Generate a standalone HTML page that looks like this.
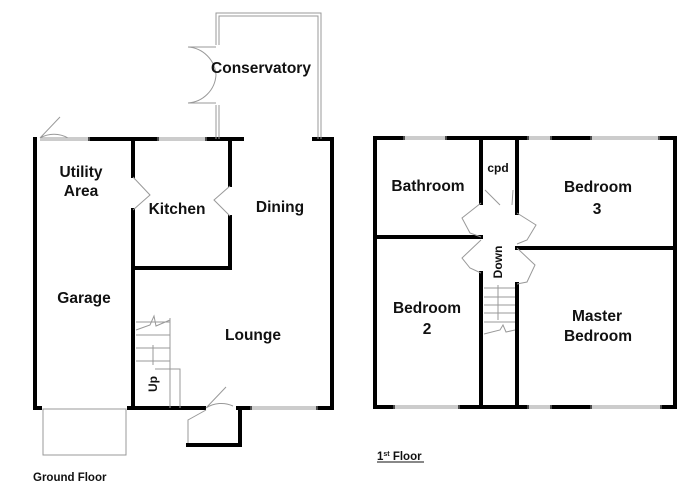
<!DOCTYPE html>
<html><head><style>
html,body{margin:0;padding:0;background:#fff;}
svg{display:block;}
text{font-family:"Liberation Sans",Arial,sans-serif;font-weight:bold;fill:#111;}
</style></head><body>
<svg width="688" height="482" viewBox="0 0 688 482" xmlns="http://www.w3.org/2000/svg">
<g stroke="#000" stroke-width="4" fill="none" stroke-linecap="square">
<line x1="35" y1="139" x2="35" y2="408"/>
<line x1="332" y1="139" x2="332" y2="408"/>
<line x1="90" y1="139" x2="157" y2="139"/>
<line x1="207" y1="139" x2="242" y2="139"/>
<line x1="314" y1="139" x2="332" y2="139"/>
<line x1="133" y1="139" x2="133" y2="176"/>
<line x1="133" y1="210" x2="133" y2="408"/>
<line x1="230" y1="139" x2="230" y2="185"/>
<line x1="230" y1="217" x2="230" y2="268"/>
<line x1="133" y1="268" x2="230" y2="268"/>
<line x1="35" y1="408" x2="40" y2="408"/>
<line x1="129" y1="408" x2="204" y2="408"/>
<line x1="238" y1="408" x2="250" y2="408"/>
<line x1="318" y1="408" x2="332" y2="408"/>
<line x1="240" y1="408" x2="240" y2="445"/>
<line x1="188" y1="445" x2="240" y2="445"/>
<line x1="375" y1="138" x2="375" y2="407"/>
<line x1="675" y1="138" x2="675" y2="407"/>
<line x1="375" y1="138" x2="403" y2="138"/>
<line x1="447" y1="138" x2="527" y2="138"/>
<line x1="552" y1="138" x2="590" y2="138"/>
<line x1="660" y1="138" x2="675" y2="138"/>
<line x1="375" y1="407" x2="393" y2="407"/>
<line x1="460" y1="407" x2="527" y2="407"/>
<line x1="552" y1="407" x2="590" y2="407"/>
<line x1="662" y1="407" x2="675" y2="407"/>
<line x1="481" y1="138" x2="481" y2="203"/>
<line x1="481" y1="273" x2="481" y2="407"/>
<line x1="517" y1="138" x2="517" y2="213"/>
<line x1="517" y1="284" x2="517" y2="407"/>
<line x1="375" y1="237" x2="481" y2="237"/>
<line x1="517" y1="248" x2="675" y2="248"/>
</g>
<g stroke="#999" stroke-width="1" fill="none">
<line x1="40" y1="138" x2="90" y2="138"/><line x1="40" y1="140" x2="90" y2="140"/>
<line x1="157" y1="138" x2="207" y2="138"/><line x1="157" y1="140" x2="207" y2="140"/>
<line x1="250" y1="407" x2="318" y2="407"/><line x1="250" y1="409" x2="318" y2="409"/>
<line x1="403" y1="137" x2="447" y2="137"/><line x1="403" y1="139" x2="447" y2="139"/>
<line x1="527" y1="137" x2="552" y2="137"/><line x1="527" y1="139" x2="552" y2="139"/>
<line x1="590" y1="137" x2="660" y2="137"/><line x1="590" y1="139" x2="660" y2="139"/>
<line x1="393" y1="406" x2="460" y2="406"/><line x1="393" y1="408" x2="460" y2="408"/>
<line x1="527" y1="406" x2="552" y2="406"/><line x1="527" y1="408" x2="552" y2="408"/>
<line x1="590" y1="406" x2="662" y2="406"/><line x1="590" y1="408" x2="662" y2="408"/>
<path d="M216 45 V13 H321 V139 M219 45 V16 H318 V139"/>
<path d="M216 105 V139 M219 105 V139"/>
<path d="M216 47 H188 A30 30 0 0 1 216 75 M216 103 H188 A30 30 0 0 0 216 75"/>
<rect x="43" y="409" width="83" height="46"/>
<path d="M40 138 L60 117 M40 138 A28 28 0 0 1 68 138"/>
<path d="M133 177 L150 195 L133 210"/>
<path d="M230 186 L214 200 L230 216"/>
<path d="M206 408 L226 387 M206 408 A28 28 0 0 1 233 406"/>
<path d="M188 443 L188 420 L206 410"/>
<path d="M136 322 H170 M136 335 H170 M136 348 H170 M136 361 H170 M170 369 V408 M155 369 H180 V408 M170 318 V370"/>
<path d="M136 330 L150 325 L154 316 L156 326 L170 320"/>
<path d="M153 345 V365"/>
<path d="M481 203 L462 218 L470 233 L481 237 M481 240 L462 258 L470 268 L481 273"/>
<path d="M517 213 L536 225 L527 240 L517 244 M517 248 L535 265 L527 282 L517 284"/>
<path d="M485 190 L500 205 M513 190 L512 205"/>
<path d="M484 288 H515 M484 297 H515 M484 305 H515 M484 313 H515 M484 322 H515 M484 334 L500 330 L503 325 L506 332 L515 330"/>
<path d="M498 285 V320"/>
</g>
<g font-size="15.5" text-anchor="middle">
<text x="261" y="73">Conservatory</text>
<text x="81" y="177">Utility</text>
<text x="81" y="196">Area</text>
<text x="177" y="214">Kitchen</text>
<text x="280" y="212">Dining</text>
<text x="84" y="303">Garage</text>
<text x="253" y="340">Lounge</text>
<text x="428" y="191">Bathroom</text>
<text x="598" y="192">Bedroom</text>
<text x="597" y="214">3</text>
<text x="427" y="313">Bedroom</text>
<text x="427" y="334">2</text>
<text x="597" y="321">Master</text>
<text x="598" y="341">Bedroom</text>
</g>
<text x="498" y="172" font-size="12" text-anchor="middle">cpd</text>
<text transform="translate(502,262) rotate(-90)" font-size="12" text-anchor="middle">Down</text>
<text transform="translate(157,384) rotate(-90)" font-size="12" text-anchor="middle">Up</text>
<text x="33" y="481" font-size="11.5">Ground Floor</text>
<text x="377" y="460" font-size="11.5">1<tspan font-size="7" dy="-4">st</tspan><tspan dy="4"> Floor</tspan></text>
<line x1="377" y1="462" x2="424" y2="462" stroke="#111" stroke-width="1"/>
</svg>
</body></html>
